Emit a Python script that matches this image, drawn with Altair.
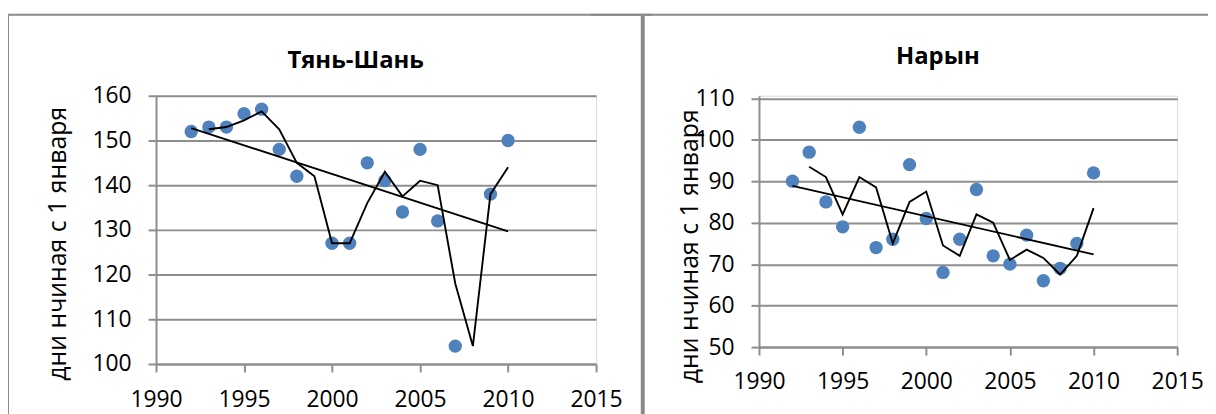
import altair as alt
import pandas as pd

# ---- data ----
ts_years = [1992, 1993, 1994, 1995, 1996, 1997, 1998, 2000, 2001, 2002, 2003, 2004, 2005, 2006, 2007, 2009, 2010]
ts_days = [152, 153, 153, 156, 157, 148, 142, 127, 127, 145, 141, 134, 148, 132, 104, 138, 150]
ts_ma_years = [1993, 1994, 1995, 1996, 1997, 1998, 1999, 2000, 2001, 2002, 2003, 2004, 2005, 2006, 2007, 2008, 2009, 2010]
ts_ma = [152.5, 153, 154.5, 156.5, 152.5, 145, 142, 127, 127, 136, 143, 137.5, 141, 140, 118, 104, 138, 144]

nr_years = [1992, 1993, 1994, 1995, 1996, 1997, 1998, 1999, 2000, 2001, 2002, 2003, 2004, 2005, 2006, 2007, 2008, 2009, 2010]
nr_days = [90, 97, 85, 79, 103, 74, 76, 94, 81, 68, 76, 88, 72, 70, 77, 66, 69, 75, 92]
nr_ma_years = [1993, 1994, 1995, 1996, 1997, 1998, 1999, 2000, 2001, 2002, 2003, 2004, 2005, 2006, 2007, 2008, 2009, 2010]
nr_ma = [93.5, 91, 82, 91, 88.5, 75, 85, 87.5, 74.5, 72, 82, 80, 71, 73.5, 71.5, 67.5, 72, 83.5]

x_ticks = [1990, 1995, 2000, 2005, 2010, 2015]
ts_y_ticks = [100, 110, 120, 130, 140, 150, 160]
nr_y_ticks = [50, 60, 70, 80, 90, 100, 110]

titles = ["Тянь-Шань", "Нарын"]
y_title = "дни нчиная с 1 января"

FONT = "Open Sans"
GRID = "#8E8E8E"
BLUE = "#4F81BD"


def panel(years, days, ma_years, ma, title, y_dom, y_ticks, w, h,
          title_x, title_y, ytitle_x, ytitle_y, xlab_pad, borders):
    pts = pd.DataFrame({"year": years, "days": days})
    mav = pd.DataFrame({"year": ma_years, "days": ma})

    xs = alt.X("year:Q", scale=alt.Scale(domain=[1990, 2015], nice=False, zero=False),
               axis=alt.Axis(values=x_ticks, format="d", grid=False, title=None,
                             domainColor=GRID, domainWidth=2, tickColor=GRID, tickWidth=2,
                             tickSize=8, labelFont=FONT, labelFontSize=23, labelColor="black",
                             labelBaseline="alphabetic", labelPadding=xlab_pad, labelFlush=False))
    ys = alt.Y("days:Q", scale=alt.Scale(domain=y_dom, nice=False, zero=False),
               axis=alt.Axis(values=y_ticks, format="d", grid=True, gridColor=GRID, gridWidth=2,
                             domainColor=GRID, domainWidth=2, tickColor=GRID, tickWidth=2,
                             tickSize=8, labelFont=FONT, labelFontSize=23, labelColor="black",
                             labelPadding=17, labelFlush=False,
                             title=y_title, titleFont=FONT, titleFontSize=25,
                             titleFontWeight="normal", titleColor="black",
                             titleAngle=270, titleBaseline="alphabetic", titleAlign="center",
                             titleX=ytitle_x, titleY=ytitle_y))

    points = alt.Chart(pts).mark_circle(size=180, color=BLUE, opacity=1).encode(x=xs, y=ys)
    trend = alt.Chart(pts).transform_regression("year", "days").mark_line(
        color="black", strokeWidth=1.9).encode(x="year:Q", y="days:Q")
    mline = alt.Chart(mav).mark_line(color="black", strokeWidth=1.9).encode(x="year:Q", y="days:Q")

    ttl = alt.Chart(pd.DataFrame({"t": [title]})).mark_text(
        font=FONT, fontSize=24, fontWeight="bold", color="black",
        align="center", baseline="alphabetic").encode(
        x=alt.value(title_x), y=alt.value(title_y), text="t:N")

    layers = [points, trend, mline, ttl]
    for b in borders:
        enc = {k: alt.value(v) for k, v in b["pos"].items()}
        layers.append(alt.Chart(pd.DataFrame({"k": [0]})).mark_rule(
            color="#8A8A8A", strokeWidth=b["w"]).encode(**enc))

    return alt.layer(*layers).properties(width=w, height=h)


left = panel(ts_years, ts_days, ts_ma_years, ts_ma, titles[0], [100, 160], ts_y_ticks,
             443, 270, 201, -28, -91.5, 148.5, 35,
             [{"pos": {"x": -149, "y": -82, "y2": 330}, "w": 2},
              {"pos": {"x": -150, "x2": 500, "y": -81.5}, "w": 2}])
right = panel(nr_years, nr_days, nr_ma_years, nr_ma, titles[1], [50, 110.6], nr_y_ticks,
              421, 253, 180, -32, -62, 151, 34,
              [{"pos": {"x": -117, "y": -82, "y2": 330}, "w": 4},
               {"pos": {"x": -170, "x2": 460, "y": -81.5}, "w": 2}])

chart = alt.hconcat(left, right, spacing=164, bounds="flush").properties(
    padding={"left": 149, "top": 87, "right": 1059, "bottom": 319},
    autosize=alt.AutoSizeParams(type="none"),
).configure_view(stroke=None).configure(background="white")

chart.save("out.html", embed_options={"renderer": "svg", "actions": False})
